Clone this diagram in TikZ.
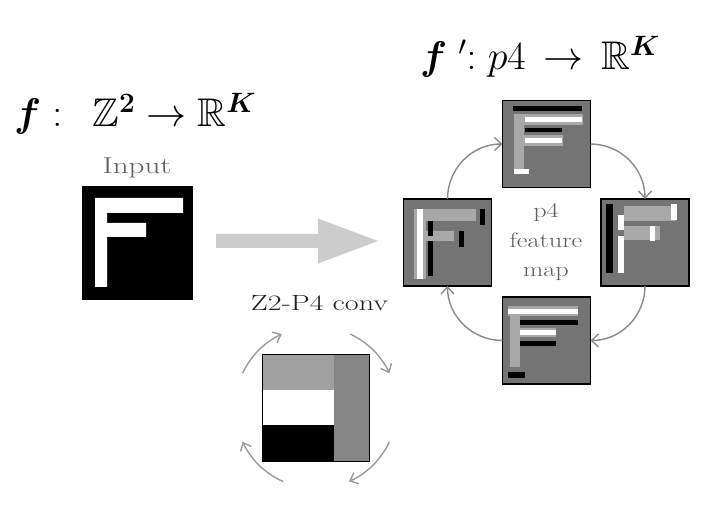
\RequirePackage{fix-cm}
\documentclass[tikz,border=0pt]{standalone}
\usepackage{amsmath,amssymb,bm}
\usepackage{graphicx}
\usetikzlibrary{arrows.meta,calc}
\definecolor{mapgray}{HTML}{747474}
\definecolor{fgray}{HTML}{A8A8A8}
\definecolor{arrgray}{HTML}{CCCCCC}
\definecolor{cycgray}{HTML}{8A8A8A}
\definecolor{kcycgray}{HTML}{9A9A9A}
\definecolor{labgray}{HTML}{5E5E5E}
\definecolor{klight}{HTML}{A0A0A0}
\definecolor{kmid}{HTML}{858585}
\newcommand\fmrect[6]{\fill[#6] ($(#1.north west)+(#2,-#3)$) rectangle ($(#1.north west)+(#4,-#5)$);}
\begin{document}
\begin{tikzpicture}[x=1pt,y=1pt,
  fmap/.style={draw=black, line width=1.2pt, fill=mapgray, minimum width=88pt, minimum height=87pt, inner sep=0pt, outer sep=0pt},
  cyc/.style={draw=cycgray, line width=1.4pt, -{Straight Barb[length=7pt,width=13pt]}},
  kcyc/.style={draw=kcycgray, line width=1.4pt, -{Straight Barb[length=7pt,width=12pt]}},
  lab/.style={inner sep=0pt, anchor=base},
]
\useasboundingbox (0,0) rectangle (703,514);

% formulas
\node[lab, anchor=base west] (f1) at (14,387) {\fontsize{40}{50}\selectfont $\boldsymbol{f}\;\mathbf{:}\hspace{30pt}\mathbb{Z}^{\mathbf{2}}\to\mathbb{R}^{\boldsymbol{K}}$};
\node[lab, anchor=base west] (f2) at (420,444) {\fontsize{40}{46}\selectfont $\boldsymbol{f}\;{}^{\prime}{:}\;p4\mathrel{\,\to\,}\mathbb{R}^{\boldsymbol{K}}$};

% input
\node[lab, text=labgray] (inlab) at (137,340) {\scalebox{1.35}[1]{\fontsize{23}{27}\selectfont Input}};
\node[draw=black, fill=black, minimum width=110pt, minimum height=113pt, inner sep=0pt, outer sep=0pt] (input) at (137,271.5) {};
\fill[white] ($(input.north west)+(13,-12)$) -- ++(88,0) -- ++(0,-15) -- ++(-76,0) -- ++(0,-10) -- ++(39,0) -- ++(0,-14) -- ++(-39,0) -- ++(0,-50) -- ++(-12,0) -- cycle;

% big arrow
\coordinate (aS) at ($(input.east)+(24,1.5)$);
\fill[arrgray] (aS) ++(0,7) -- ++(102,0) -- ++(0,15.5) -- ++(60,-22.5) -- ++(-60,-22.5) -- ++(0,15.5) -- ++(-102,0) -- cycle;

% p4 feature maps
\node[fmap] (pT) at (546.5,370) {};
\node[fmap] (pL) at (447.5,271.5) {};
\node[fmap] (pR) at (645,271.5) {};
\node[fmap] (pB) at (546.5,173.5) {};

% top
\fmrect{pT}{11}{14}{21}{72}{fgray}
\fmrect{pT}{11}{14}{80}{25}{fgray}
\fmrect{pT}{11}{35}{60}{46}{fgray}
\fmrect{pT}{10}{6}{79}{11}{black}
\fmrect{pT}{22}{28}{59}{32}{black}
\fmrect{pT}{22}{17}{79}{22}{white}
\fmrect{pT}{22}{38}{59}{43}{white}
\fmrect{pT}{11}{69}{26}{74}{white}
% left
\fmrect{pL}{10}{10}{22}{80}{fgray}
\fmrect{pL}{19}{10}{72}{22}{fgray}
\fmrect{pL}{19}{32}{50}{42}{fgray}
\fmrect{pL}{13}{10}{19}{80}{white}
\fmrect{pL}{76}{10}{81}{26}{black}
\fmrect{pL}{24}{22}{29}{37}{black}
\fmrect{pL}{24}{42}{29}{77}{black}
\fmrect{pL}{55}{32}{60}{48}{black}
% right
\fmrect{pR}{23}{7}{75}{22}{fgray}
\fmrect{pR}{23}{27}{59}{41}{fgray}
\fmrect{pR}{5}{5}{12}{74}{black}
\fmrect{pR}{17}{16}{23}{31}{white}
\fmrect{pR}{17}{37}{23}{74}{white}
\fmrect{pR}{70}{5}{76}{21}{white}
\fmrect{pR}{49}{27}{54}{42}{white}
% bottom
\fmrect{pB}{7}{9}{17}{70}{fgray}
\fmrect{pB}{5}{9}{75}{19}{fgray}
\fmrect{pB}{17}{31}{53}{40}{fgray}
\fmrect{pB}{5}{12}{75}{17}{white}
\fmrect{pB}{17}{33}{53}{38}{white}
\fmrect{pB}{17}{23}{75}{28}{black}
\fmrect{pB}{17}{44}{53}{49}{black}
\fmrect{pB}{5}{75}{22}{81}{black}

% cycle arrows
\draw[cyc] (pL.north) to[out=90,in=180] (pT.west);
\draw[cyc] (pT.east) to[out=0,in=90] (pR.north);
\draw[cyc] (pR.south) to[out=-90,in=0] (pB.east);
\draw[cyc] (pB.west) to[out=180,in=-90] (pL.south);

% p4 label
\node[lab, text=labgray] (t1) at (546,296) {\scalebox{1.25}[1]{\fontsize{21}{25}\selectfont p4}};
\node[lab, text=labgray] (t2) at (546,266) {\scalebox{1.25}[1]{\fontsize{21}{25}\selectfont feature}};
\node[lab, text=labgray] (t3) at (546,237) {\scalebox{1.25}[1]{\fontsize{21}{25}\selectfont map}};

% kernel
\node[lab, text=black!88] (klab) at (319.5,203) {\scalebox{1.37}[1]{\fontsize{22}{26}\selectfont Z2-P4 conv}};
\node[minimum size=107pt, inner sep=0pt, outer sep=0pt] (kern) at (316,106.5) {};
\fmrect{kern}{0}{0}{71.3}{35.7}{klight}
\fmrect{kern}{0}{35.7}{71.3}{71.3}{white}
\fmrect{kern}{0}{71.3}{71.3}{107}{black}
\fmrect{kern}{71.3}{0}{107}{107}{kmid}
\draw[line width=0.9pt] (kern.north west) rectangle (kern.south east);

\draw[kcyc] ($(kern.center)+(155:81)$) arc[start angle=155, end angle=115, radius=81];
\draw[kcyc] ($(kern.center)+(65:81)$) arc[start angle=65, end angle=25, radius=81];
\draw[kcyc] ($(kern.center)+(-25:81)$) arc[start angle=-25, end angle=-66, radius=81];
\draw[kcyc] ($(kern.center)+(-114:81)$) arc[start angle=-114, end angle=-155, radius=81];
\end{tikzpicture}
\end{document}
